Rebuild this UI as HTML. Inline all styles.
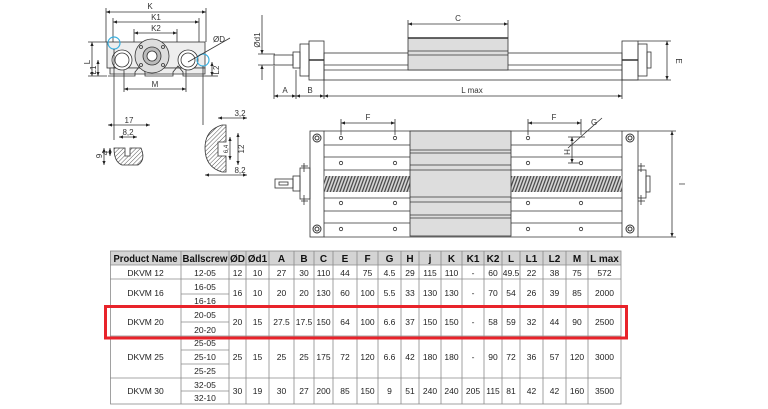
<!DOCTYPE html>
<html><head><style>
html,body{margin:0;padding:0;background:#fff;}
svg{display:block;font-family:"Liberation Sans",Arial,sans-serif;}
</style></head><body>
<svg width="768" height="409" viewBox="0 0 768 409" xmlns="http://www.w3.org/2000/svg">
<defs>
<pattern id="hat" width="3" height="3" patternUnits="userSpaceOnUse" patternTransform="rotate(45)"><line x1="0" y1="0" x2="0" y2="3" stroke="#555" stroke-width="1"/></pattern>
<pattern id="scr" width="3" height="6" patternUnits="userSpaceOnUse" patternTransform="rotate(20)"><rect width="3" height="6" fill="#ddd"/><line x1="1" y1="0" x2="1" y2="6" stroke="#444" stroke-width="1.3"/></pattern>
<marker id="a" markerWidth="6" markerHeight="6" refX="5" refY="3" orient="auto-start-reverse"><path d="M0,1 L5,3 L0,5z" fill="#222"/></marker>
</defs>
<g stroke="#333" stroke-width="0.8" fill="none">
<!-- END VIEW -->
<line x1="106" y1="12" x2="206" y2="12" marker-start="url(#a)" marker-end="url(#a)"/>
<line x1="113" y1="22" x2="199" y2="22" marker-start="url(#a)" marker-end="url(#a)"/>
<line x1="134" y1="33" x2="177" y2="33" marker-start="url(#a)" marker-end="url(#a)"/>
<line x1="106" y1="8" x2="106" y2="42"/><line x1="206" y1="8" x2="206" y2="42"/>
<line x1="113" y1="18" x2="113" y2="42"/><line x1="199" y1="18" x2="199" y2="42"/>
<line x1="134" y1="29" x2="134" y2="42"/><line x1="177" y1="29" x2="177" y2="42"/>
<rect x="107" y="42" width="98" height="26" fill="#eee"/>
<path d="M110,68 L205,68 L205,74 L110,74z" fill="#eee"/>
<path d="M108,76 L135,76 L135,72 L140,66 L145,72 L145,76 L173,76 L173,72 L178,66 L183,72 L183,76 L205,76" />
<circle cx="122" cy="60" r="10" fill="#fff"/><circle cx="122" cy="60" r="7"/>
<circle cx="188" cy="60" r="10" fill="#fff"/><circle cx="188" cy="60" r="7"/>
<circle cx="152" cy="56" r="17" fill="#ddd"/><circle cx="152" cy="56" r="9" fill="#bbb"/><circle cx="152" cy="56" r="5" fill="#fff"/>
<circle cx="141" cy="47" r="1.5"/><circle cx="163" cy="47" r="1.5"/><circle cx="141" cy="65" r="1.5"/><circle cx="163" cy="65" r="1.5"/>
<circle cx="114" cy="43" r="6" stroke="#3ab0e0" stroke-width="1.2"/>
<circle cx="203" cy="60" r="6" stroke="#3ab0e0" stroke-width="1.2"/>
<line x1="188" y1="62" x2="230" y2="38"/><text x="213" y="42" font-size="8" fill="#333" stroke="none">ØD</text>
<line x1="92" y1="42" x2="92" y2="76" marker-start="url(#a)" marker-end="url(#a)"/>
<line x1="98" y1="60" x2="98" y2="76" marker-start="url(#a)" marker-end="url(#a)"/>
<line x1="212" y1="62" x2="212" y2="76" marker-start="url(#a)" marker-end="url(#a)"/>
<line x1="88" y1="42" x2="107" y2="42"/><line x1="88" y1="76" x2="107" y2="76"/><line x1="205" y1="76" x2="218" y2="76"/>
<line x1="124" y1="89" x2="186" y2="89" marker-start="url(#a)" marker-end="url(#a)"/>
<line x1="124" y1="70" x2="124" y2="92"/><line x1="186" y1="70" x2="186" y2="92"/>
<line x1="114" y1="49" x2="114" y2="140"/><line x1="203" y1="66" x2="203" y2="125"/>
<!-- details -->
<path d="M114,148 L125,148 L125,156 L130,156 L130,148 L141,148 Q146,160 138,165 L122,165 Q114,162 114,148z" fill="url(#hat)"/>
<line x1="108" y1="125" x2="150" y2="125" marker-start="url(#a)" marker-end="url(#a)"/>
<line x1="119" y1="137" x2="137" y2="137" marker-start="url(#a)" marker-end="url(#a)"/>
<line x1="104" y1="148" x2="104" y2="165" marker-start="url(#a)" marker-end="url(#a)"/>
<line x1="110" y1="148" x2="110" y2="156" marker-start="url(#a)" marker-end="url(#a)"/>
<path d="M222,125 Q205,130 205,148 Q205,167 222,172 L226,172 L226,156 L218,156 L218,142 L226,142 L226,125z" fill="url(#hat)"/>
<line x1="218" y1="118" x2="247" y2="118" marker-start="url(#a)" marker-end="url(#a)"/>
<line x1="230" y1="137" x2="230" y2="160" marker-start="url(#a)" marker-end="url(#a)"/>
<line x1="238" y1="133" x2="238" y2="165" marker-start="url(#a)" marker-end="url(#a)"/>
<line x1="205" y1="175" x2="247" y2="175" marker-start="url(#a)" marker-end="url(#a)"/>
</g>
<g font-size="8" fill="#333">
<text x="150" y="9" text-anchor="middle">K</text><text x="156" y="20" text-anchor="middle">K1</text><text x="156" y="31" text-anchor="middle">K2</text>
<text x="90" y="62" transform="rotate(-90 90 62)" text-anchor="middle">L</text>
<text x="96" y="70" transform="rotate(-90 96 70)" text-anchor="middle">L1</text>
<text x="219" y="70" transform="rotate(-90 219 70)" text-anchor="middle">L2</text>
<text x="155" y="87" text-anchor="middle">M</text>
<text x="129" y="123" text-anchor="middle">17</text><text x="128" y="135" text-anchor="middle">8,2</text>
<text x="102" y="156" transform="rotate(-90 102 156)" text-anchor="middle">9</text>
<text x="108" y="153" transform="rotate(-90 108 153)" text-anchor="middle">4</text>
<text x="240" y="116" text-anchor="middle">3,2</text><text x="240" y="173" text-anchor="middle">8,2</text>
<text x="228" y="149" font-size="6" transform="rotate(-90 228 149)" text-anchor="middle">6,4</text>
<text x="244" y="149" transform="rotate(-90 244 149)" text-anchor="middle">12</text>
<text x="260" y="40" transform="rotate(-90 260 40)" text-anchor="middle">Ød1</text>
</g>
<!-- SIDE VIEW -->
<g stroke="#333" stroke-width="0.8" fill="none">
<line x1="262" y1="15" x2="262" y2="54" marker-end="url(#a)"/><line x1="262" y1="80" x2="262" y2="65" marker-end="url(#a)"/>
<line x1="258" y1="54" x2="275" y2="54"/><line x1="258" y1="65" x2="275" y2="65"/>
<rect x="274" y="55" width="19" height="10"/><rect x="293" y="52" width="7" height="16"/>
<rect x="300" y="44" width="9" height="32"/><rect x="309" y="41" width="15" height="39"/>
<line x1="309" y1="60" x2="324" y2="60" stroke-width="1.5"/>
<rect x="324" y="53" width="298" height="27"/>
<line x1="324" y1="65" x2="622" y2="65"/><line x1="324" y1="70" x2="622" y2="70"/>
<rect x="408" y="38" width="100" height="32" fill="#ddd"/>
<line x1="408" y1="51" x2="508" y2="51"/><line x1="408" y1="55" x2="508" y2="55"/>
<line x1="408" y1="38" x2="508" y2="38" stroke-width="1.5"/>
<rect x="622" y="41" width="16" height="39"/><rect x="638" y="44" width="9" height="32"/><rect x="647" y="52" width="4" height="16"/>
<line x1="622" y1="60" x2="638" y2="60" stroke-width="1.5"/>
<line x1="408" y1="24" x2="508" y2="24" marker-start="url(#a)" marker-end="url(#a)"/>
<line x1="408" y1="20" x2="408" y2="38"/><line x1="508" y1="20" x2="508" y2="38"/>
<line x1="667" y1="41" x2="667" y2="80" marker-start="url(#a)" marker-end="url(#a)"/>
<line x1="638" y1="41" x2="671" y2="41"/><line x1="622" y1="80" x2="671" y2="80"/>
<line x1="274" y1="66" x2="274" y2="99"/><line x1="296" y1="70" x2="296" y2="99"/><line x1="324" y1="80" x2="324" y2="99"/><line x1="622" y1="80" x2="622" y2="99"/>
<line x1="274" y1="96" x2="296" y2="96" marker-start="url(#a)" marker-end="url(#a)"/>
<line x1="296" y1="96" x2="324" y2="96" marker-start="url(#a)" marker-end="url(#a)"/>
<line x1="324" y1="96" x2="622" y2="96" marker-start="url(#a)" marker-end="url(#a)"/>
</g>
<g font-size="8" fill="#333">
<text x="458" y="21" text-anchor="middle">C</text>
<text x="676" y="61" transform="rotate(90 676 61)" text-anchor="middle">E</text>
<text x="285" y="93" text-anchor="middle">A</text><text x="310" y="93" text-anchor="middle">B</text><text x="472" y="93" text-anchor="middle">L max</text>
</g>
<!-- TOP VIEW -->
<g stroke="#333" stroke-width="0.8" fill="none">
<rect x="310" y="131" width="14" height="106"/><rect x="622" y="131" width="16" height="106"/>
<line x1="324" y1="131" x2="622" y2="131"/><line x1="324" y1="237" x2="622" y2="237"/>
<g>
<line x1="324" y1="145" x2="410" y2="145"/><line x1="324" y1="157" x2="410" y2="157"/><line x1="324" y1="170" x2="410" y2="170"/>
<line x1="324" y1="198" x2="410" y2="198"/><line x1="324" y1="211" x2="410" y2="211"/><line x1="324" y1="223" x2="410" y2="223"/>
<line x1="511" y1="145" x2="622" y2="145"/><line x1="511" y1="157" x2="622" y2="157"/><line x1="511" y1="170" x2="622" y2="170"/>
<line x1="511" y1="198" x2="622" y2="198"/><line x1="511" y1="211" x2="622" y2="211"/><line x1="511" y1="223" x2="622" y2="223"/>
</g>
<rect x="324" y="176" width="86" height="16" fill="url(#scr)" stroke="none"/>
<rect x="511" y="176" width="111" height="16" fill="url(#scr)" stroke="none"/>
<rect x="410" y="131" width="101" height="105" fill="#ddd"/>
<line x1="410" y1="150" x2="511" y2="150"/><line x1="410" y1="153" x2="511" y2="153"/>
<line x1="410" y1="165" x2="511" y2="165"/><line x1="410" y1="170" x2="511" y2="170"/>
<line x1="410" y1="197" x2="511" y2="197"/><line x1="410" y1="202" x2="511" y2="202"/>
<line x1="410" y1="215" x2="511" y2="215"/><line x1="410" y1="218" x2="511" y2="218"/>
<g>
<circle cx="341" cy="138" r="1.7"/><circle cx="395" cy="138" r="1.7"/><circle cx="528" cy="138" r="1.7"/>
<circle cx="341" cy="163" r="1.7"/><circle cx="395" cy="163" r="1.7"/><circle cx="528" cy="163" r="1.7"/><circle cx="581" cy="163" r="1.7"/>
<circle cx="341" cy="203" r="1.7"/><circle cx="395" cy="203" r="1.7"/><circle cx="528" cy="203" r="1.7"/><circle cx="581" cy="203" r="1.7"/>
<circle cx="341" cy="229" r="1.7"/><circle cx="395" cy="229" r="1.7"/><circle cx="528" cy="229" r="1.7"/><circle cx="581" cy="229" r="1.7"/>
</g>
<g stroke-width="1"><circle cx="317" cy="138" r="4"/><circle cx="317" cy="138" r="2"/><circle cx="317" cy="229" r="4"/><circle cx="317" cy="229" r="2"/>
<circle cx="630" cy="138" r="4"/><circle cx="630" cy="138" r="2"/><circle cx="630" cy="229" r="4"/><circle cx="630" cy="229" r="2"/></g>
<rect x="275" y="179" width="18" height="9"/><rect x="279" y="182" width="9" height="3"/>
<rect x="293" y="176" width="7" height="15"/><rect x="300" y="168" width="10" height="31"/>
<line x1="304" y1="163" x2="304" y2="172"/><line x1="301" y1="166" x2="308" y2="166"/>
<line x1="304" y1="195" x2="304" y2="205"/><line x1="301" y1="201" x2="308" y2="201"/>
<rect x="638" y="170" width="8" height="28"/><rect x="646" y="176" width="4" height="16"/>
<line x1="641" y1="163" x2="641" y2="172"/><line x1="638" y1="166" x2="645" y2="166"/>
<line x1="641" y1="195" x2="641" y2="205"/><line x1="638" y1="201" x2="645" y2="201"/>
<line x1="341" y1="119" x2="341" y2="135"/><line x1="395" y1="119" x2="395" y2="135"/>
<line x1="341" y1="123" x2="395" y2="123" marker-start="url(#a)" marker-end="url(#a)"/>
<line x1="528" y1="119" x2="528" y2="135"/><line x1="581" y1="119" x2="581" y2="135"/>
<line x1="528" y1="123" x2="581" y2="123" marker-start="url(#a)" marker-end="url(#a)"/>
<line x1="568" y1="137" x2="585" y2="137"/><line x1="568" y1="163" x2="579" y2="163"/>
<line x1="572" y1="137" x2="572" y2="163" marker-start="url(#a)" marker-end="url(#a)"/>
<line x1="568" y1="148" x2="602" y2="118"/>
<line x1="638" y1="131" x2="676" y2="131"/><line x1="638" y1="237" x2="676" y2="237"/>
<line x1="672" y1="131" x2="672" y2="237" marker-start="url(#a)" marker-end="url(#a)"/>
</g>
<g font-size="8" fill="#333">
<text x="368" y="120" text-anchor="middle">F</text><text x="554" y="120" text-anchor="middle">F</text>
<text x="591" y="125">G</text>
<text x="564" y="152" transform="rotate(90 564 152)" text-anchor="middle">H</text>
<text x="679" y="184" transform="rotate(90 679 184)" text-anchor="middle">I</text>
</g>
<!-- TABLE -->
<rect x="110" y="251" width="511" height="14" fill="#d4d4d4"/>
<g stroke="#8a8a8a" stroke-width="0.8" fill="none">
<rect x="110.5" y="251" width="510.5" height="153"/>
<line x1="110" y1="265" x2="621" y2="265"/><line x1="110" y1="279" x2="621" y2="279"/>
<line x1="110" y1="306" x2="621" y2="306"/><line x1="110" y1="336" x2="621" y2="336"/><line x1="110" y1="378" x2="621" y2="378"/>
<line x1="181" y1="294" x2="229" y2="294"/><line x1="181" y1="322" x2="229" y2="322"/>
<line x1="181" y1="350" x2="229" y2="350"/><line x1="181" y1="364" x2="229" y2="364"/><line x1="181" y1="391" x2="229" y2="391"/>
<path d="M181,251V404M229,251V404M246,251V404M269,251V404M294,251V404M314,251V404M333,251V404M357,251V404M378,251V404M401,251V404M419,251V404M441,251V404M462,251V404M484,251V404M502,251V404M520,251V404M543,251V404M566,251V404M588,251V404"/>
</g>
<g font-size="10" font-weight="bold" fill="#111" text-anchor="middle">
<text x="145.5" y="262" textLength="64" lengthAdjust="spacingAndGlyphs">Product Name</text><text x="205" y="262" textLength="45" lengthAdjust="spacingAndGlyphs">Ballscrew</text><text x="237.5" y="262">ØD</text><text x="257.5" y="262">Ød1</text>
<text x="281.5" y="262">A</text><text x="304" y="262">B</text><text x="323.5" y="262">C</text><text x="345" y="262">E</text><text x="367.5" y="262">F</text>
<text x="389.5" y="262">G</text><text x="410" y="262">H</text><text x="430" y="262">j</text><text x="451.5" y="262">K</text><text x="473" y="262">K1</text>
<text x="493" y="262">K2</text><text x="511" y="262">L</text><text x="531.5" y="262">L1</text><text x="554.5" y="262">L2</text><text x="577" y="262">M</text><text x="604.5" y="262">L max</text>
</g>
<g font-size="8.5" fill="#222" text-anchor="middle">
<text x="145.5" y="276">DKVM 12</text><text x="205" y="276">12-05</text>
<g transform="translate(0,276)"><text x="237.5">12</text><text x="257.5">10</text><text x="281.5">27</text><text x="304">30</text><text x="323.5">110</text><text x="345">44</text><text x="367.5">75</text><text x="389.5">4.5</text><text x="410">29</text><text x="430">115</text><text x="451.5">110</text><text x="473">-</text><text x="493">60</text><text x="511">49.5</text><text x="531.5">22</text><text x="554.5">38</text><text x="577">75</text><text x="604.5">572</text></g>
<text x="145.5" y="296">DKVM 16</text><text x="205" y="290">16-05</text><text x="205" y="304">16-16</text>
<g transform="translate(0,296)"><text x="237.5">16</text><text x="257.5">10</text><text x="281.5">20</text><text x="304">20</text><text x="323.5">130</text><text x="345">60</text><text x="367.5">100</text><text x="389.5">5.5</text><text x="410">33</text><text x="430">130</text><text x="451.5">130</text><text x="473">-</text><text x="493">70</text><text x="511">54</text><text x="531.5">26</text><text x="554.5">39</text><text x="577">85</text><text x="604.5">2000</text></g>
<text x="145.5" y="325">DKVM 20</text><text x="205" y="318">20-05</text><text x="205" y="333">20-20</text>
<g transform="translate(0,325)"><text x="237.5">20</text><text x="257.5">15</text><text x="281.5">27.5</text><text x="304">17.5</text><text x="323.5">150</text><text x="345">64</text><text x="367.5">100</text><text x="389.5">6.6</text><text x="410">37</text><text x="430">150</text><text x="451.5">150</text><text x="473">-</text><text x="493">58</text><text x="511">59</text><text x="531.5">32</text><text x="554.5">44</text><text x="577">90</text><text x="604.5">2500</text></g>
<text x="145.5" y="360">DKVM 25</text><text x="205" y="346">25-05</text><text x="205" y="360">25-10</text><text x="205" y="374">25-25</text>
<g transform="translate(0,360)"><text x="237.5">25</text><text x="257.5">15</text><text x="281.5">25</text><text x="304">25</text><text x="323.5">175</text><text x="345">72</text><text x="367.5">120</text><text x="389.5">6.6</text><text x="410">42</text><text x="430">180</text><text x="451.5">180</text><text x="473">-</text><text x="493">90</text><text x="511">72</text><text x="531.5">36</text><text x="554.5">57</text><text x="577">120</text><text x="604.5">3000</text></g>
<text x="145.5" y="394">DKVM 30</text><text x="205" y="388">32-05</text><text x="205" y="401">32-10</text>
<g transform="translate(0,394)"><text x="237.5">30</text><text x="257.5">19</text><text x="281.5">30</text><text x="304">27</text><text x="323.5">200</text><text x="345">85</text><text x="367.5">150</text><text x="389.5">9</text><text x="410">51</text><text x="430">240</text><text x="451.5">240</text><text x="473">205</text><text x="493">115</text><text x="511">81</text><text x="531.5">42</text><text x="554.5">42</text><text x="577">160</text><text x="604.5">3500</text></g>
</g>
<rect x="105.5" y="306.5" width="521" height="31.5" fill="none" stroke="#e8232a" stroke-width="3"/>
</svg>
</body></html>
